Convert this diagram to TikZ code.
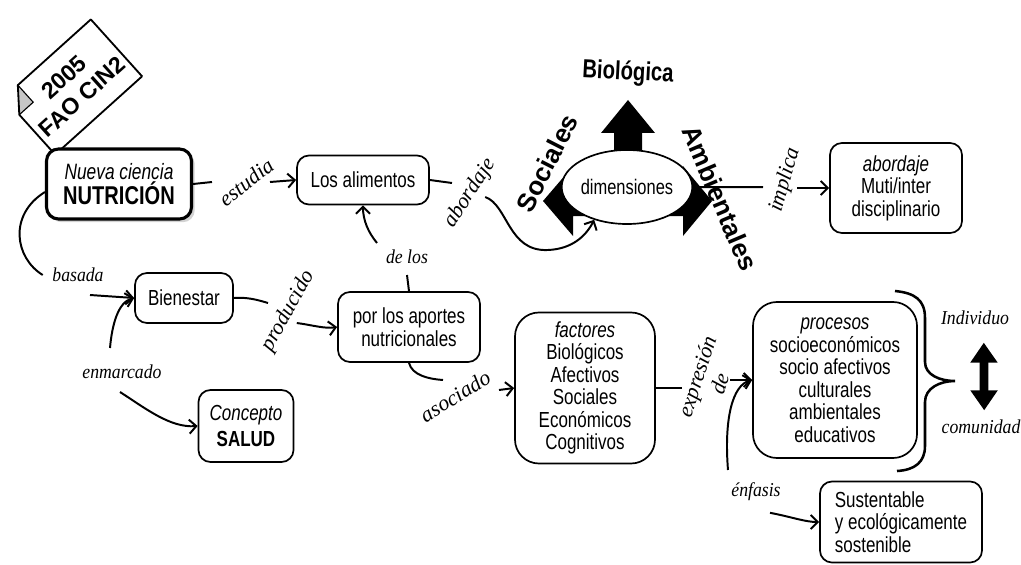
\documentclass[tikz,border=0pt]{standalone}
\usepackage{fontspec}
\setmainfont{Liberation Serif}[FakeStretch=0.9]
\setsansfont{Liberation Sans}[FakeStretch=0.78]
\newfontfamily\rotsans{Liberation Sans}
\newfontfamily\rotserif{Liberation Serif}
\usepackage{tikz}
\usetikzlibrary{arrows.meta,calc,shadows,shapes.geometric}

\begin{document}
\begin{tikzpicture}[x=0.025cm, y=-0.025cm, >={Straight Barb[length=5pt,width=10pt]},
	box/.style={draw, fill=white, line width=1.2pt, rounded corners=0.3cm, align=center, inner sep=2pt, font={\sffamily\fontsize{15.5}{16}\selectfont}},
	lbl/.style={inner sep=1pt, font={\rmfamily\itshape\fontsize{14}{16}\selectfont}},
	rlbl/.style={inner sep=1pt, align=center, font={\rotserif\itshape\fontsize{15.5}{17}\selectfont}},
	dimword/.style={font={\rotsans\bfseries\fontsize{18.5}{19}\selectfont}},
	conn/.style={line width=1.4pt}]

		\useasboundingbox (0,0) rectangle (1021,565);

		\node[rotate=42, minimum width=2.85cm, minimum height=1.9cm, align=center, font={\rotsans\bfseries\fontsize{16.5}{19}\selectfont}] (banner) at (73,87) {2005\\FAO CIN2};
		\coordinate (fold1) at ($(banner.north west)!0.3!(banner.south west)$);
		\coordinate (fold2) at ($(banner.north west)!0.16!(banner.north east)$);
		\fill[gray!45] (fold1) -- (fold2) -- ($(fold1)+(fold2)-(banner.north west)$) -- cycle;
		\draw[line width=1.3pt, line join=round] (fold1) -- (fold2) -- (banner.north east) -- (banner.south east) -- (banner.south west) -- cycle;
		\draw[line width=0.8pt] (fold1) -- ($(fold1)+(fold2)-(banner.north west)$) -- (fold2);

		\fill (628,100) -- (655,133) -- (642,133) -- (642,165) -- (614,165) -- (614,133) -- (601,133) -- cycle;
		\fill (543,201) -- (573,166) -- (573,186) -- (600,186) -- (600,216) -- (573,216) -- (573,236) -- cycle;
		\fill (712,201) -- (683,166) -- (683,186) -- (655,186) -- (655,216) -- (683,216) -- (683,236) -- cycle;

		\draw[color=black]
		node[box, line width=2.2pt, minimum width=3.625cm, minimum height=1.75cm, drop shadow={opacity=0.35}] (nutricion) at (119,184) {{\fontsize{15.8}{17}\selectfont\itshape Nueva ciencia}\\[1pt]{\fontsize{18.3}{20}\selectfont\bfseries NUTRICIÓN}}
		node[box, minimum width=3.3cm, minimum height=1.225cm] (alimentos) at (363,180) {Los alimentos}
		node[ellipse, draw, fill=white, line width=1.2pt, minimum width=2.95cm, minimum height=1.85cm, inner sep=0pt, font={\sffamily\fontsize{15}{16}\selectfont}] (dims) at (627,187) {dimensiones}
		node[font={\sffamily\bfseries\fontsize{18.5}{19}\selectfont}, rotate=-3] (biologica) at (628,73) {Biológica}
		node[dimword, rotate=63] (sociales) at (547,163) {Sociales}
		node[dimword, rotate=-67] (ambientales) at (720,198) {Ambientales}
		node[box, minimum width=3.3cm, minimum height=2.25cm] (abordaje) at (896,188) {\textit{abordaje}\\Muti/inter\\disciplinario}
		node[box, minimum width=2.45cm, minimum height=1.25cm] (bienestar) at (184,298) {Bienestar}
		node[box, minimum width=3.55cm, minimum height=1.75cm] (aportes) at (409,327) {por los aportes\\nutricionales}
		node[box, minimum width=2.375cm, minimum height=1.8cm] (concepto) at (246,426) {\textit{Concepto}\\[3pt]\textbf{SALUD}}
		node[box, rounded corners=0.6cm, minimum width=3.5cm, minimum height=3.775cm] (factores) at (585,388) {\textit{factores}\\Biológicos\\Afectivos\\Sociales\\Económicos\\Cognitivos}
		node[box, rounded corners=0.6cm, minimum width=4.1cm, minimum height=3.9cm] (procesos) at (835,380) {\textit{procesos}\\socioeconómicos\\socio afectivos\\culturales\\ambientales\\educativos}
		node[box, align=left, minimum width=4.05cm, minimum height=2.025cm] (sustentable) at (901,522) {Sustentable\\y ecológicamente\\sostenible}
		node[rlbl, rotate=38] (estudia) at (246,182) {estudia}
		node[rlbl, rotate=57] (abordL) at (470,193) {abordaje}
		node[rlbl, rotate=74] (implica) at (785,180) {implica}
		node[lbl] (basada) at (78,275) {basada}
		node[lbl] (enmarcado) at (122,372) {enmarcado}
		node[rlbl, rotate=61] (producido) at (288,311) {producido}
		node[lbl] (delos) at (407,257) {de los}
		node[rlbl, rotate=32] (asociado) at (455,396) {asociado}
		node[rlbl, rotate=72] (expresion) at (708,380) {expresión\\de}
		node[lbl] (enfasis) at (756,492) {énfasis}
		node[lbl] (indiv) at (975,318) {Individuo}
		node[lbl] (comun) at (981,427) {comunidad};

		\draw [conn] (nutricion.east) -- ([xshift=-0.85cm]estudia.center);
			\draw [conn,->] ([xshift=0.6cm]estudia.center) -- (alimentos.west);
		\draw [conn] (alimentos.east) -- ([xshift=-0.45cm,yshift=0.25cm]abordL.center);
			\draw [conn,->] ([xshift=0.38cm,yshift=-0.1cm]abordL.center) .. controls (508,205) and (508,252) .. (548,250) .. controls (572,249) and (586,236) .. (dims.225);
		\draw [conn] (dims.east) -- ([xshift=-0.55cm,yshift=-0.18cm]implica.center);
			\draw [conn,->] ([xshift=0.3cm,yshift=-0.2cm]implica.center) -- (abordaje.west);
		\draw [conn] ([yshift=-0.2cm]nutricion.west) .. controls (8,215) and (15,258) .. ([xshift=-0.2cm]basada.west);
			\draw [conn,->] ([xshift=0.3cm,yshift=-0.5cm]basada.center) -- (bienestar.west);
		\draw [conn,->] ([xshift=-0.3cm,yshift=0.6cm]enmarcado.center) .. controls (112,325) and (118,302) .. (bienestar.west);
			\draw [conn,->] ([xshift=-0.05cm,yshift=-0.5cm]enmarcado.center) .. controls (145,408) and (170,428) .. (concepto.west);
		\draw [conn] (bienestar.east) .. controls (248,297) and (258,300) .. ([xshift=-0.5cm,yshift=0.2cm]producido.center);
			\draw [conn,->] ([xshift=0.22cm,yshift=-0.3cm]producido.center) .. controls (312,325) and (325,329) .. (aportes.west);
		\draw [conn] (aportes.north) -- ([yshift=-0.45cm]delos.center);
			\draw [conn,->] ([xshift=-0.75cm,yshift=0.35cm]delos.center) .. controls (368,232) and (363,220) .. (alimentos.south);
		\draw [conn] (aportes.south) .. controls (412,375) and (428,379) .. ([xshift=-0.3cm,yshift=0.4cm]asociado.center);
			\draw [conn,->] ([xshift=1.1cm,yshift=0.15cm]asociado.center) -- (factores.west);
		\draw [conn] (factores.east) -- ([xshift=-0.65cm,yshift=-0.2cm]expresion.center);
			\draw [conn,->] ([xshift=0.55cm]expresion.center) -- (procesos.west);
		\draw [conn,->] ([xshift=-0.7cm,yshift=0.55cm]enfasis.center) .. controls (724,420) and (732,385) .. (procesos.west);
			\draw [conn,->] ([xshift=0.35cm,yshift=-0.52cm]enfasis.center) .. controls (792,517) and (805,522) .. (sustentable.west);
		\draw [line width=1.8pt] (895,291) .. controls (915,293) and (925,300) .. (925,318) -- (925,362) .. controls (925,375) and (940,381) .. (955,381) .. controls (940,381) and (925,388) .. (925,402) -- (925,446) .. controls (925,462) and (915,470) .. (897,471);
		\draw [line width=0.22cm, {Triangle[length=0.5cm,width=0.65cm]}-{Triangle[length=0.5cm,width=0.65cm]}] ([xshift=0.22cm,yshift=-0.4cm]indiv.south) -- ([xshift=0.08cm,yshift=0.2cm]comun.north);
\end{tikzpicture}
\end{document}
